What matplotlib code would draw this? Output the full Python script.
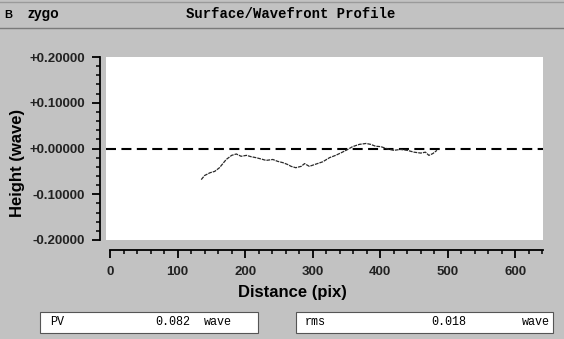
import numpy as np
from matplotlib import pyplot as plt
from matplotlib.patches import Rectangle

# profile
dist = [135, 140, 148, 155, 162, 167, 172, 180, 187, 194, 202, 209, 216, 224, 231,
        241, 248, 256, 263, 268, 275, 283, 288, 295, 305, 315, 325, 334, 344, 352,
        359, 369, 379, 386, 393, 401, 411, 420, 430, 440, 450, 460, 467, 472, 478, 484]
height = [-0.068, -0.059, -0.053, -0.050, -0.042, -0.033, -0.024, -0.015, -0.012, -0.017,
          -0.015, -0.018, -0.020, -0.023, -0.026, -0.024, -0.028, -0.031, -0.035, -0.039,
          -0.042, -0.039, -0.033, -0.039, -0.034, -0.029, -0.020, -0.015, -0.008, -0.002,
          0.004, 0.009, 0.011, 0.009, 0.005, 0.004, -0.001, -0.004, -0.002, -0.004,
          -0.008, -0.010, -0.008, -0.015, -0.011, -0.004]

yticks = [0.2, 0.1, 0.0, -0.1, -0.2]
ytick_labels = ['+0.20000', '+0.10000', '+0.00000', '-0.10000', '-0.20000']
xticks = [0, 100, 200, 300, 400, 500, 600]

stats = [('PV', '0.082', 'wave'), ('rms', '0.018', 'wave')]

bg = '#c2c2c2'
W, H = 564, 339

fig = plt.figure(figsize=(W / 100, H / 100), dpi=100, facecolor=bg)

def fx(px):
    return px / W

def fy(py):
    return 1 - py / H

# plot area (white box)
ax = fig.add_axes([fx(106), fy(240), fx(543) - fx(106), fy(57) - fy(240)], facecolor='white')
ax.set_xlim(-6, 641)
ax.set_ylim(-0.2, 0.2)

ax.axhline(0, color='black', lw=1.5, dashes=(4.8, 2.6))
ax.plot(dist, height, color='#2a2a2a', lw=0.9, linestyle=(0, (3, 0.8)))

for s in ['top', 'right']:
    ax.spines[s].set_visible(False)
ax.spines['left'].set_position(('outward', 4))
ax.spines['bottom'].set_position(('outward', 7))
ax.spines['bottom'].set_bounds(0, 641)
ax.spines['left'].set_linewidth(1.3)
ax.spines['bottom'].set_linewidth(1.3)

ax.set_yticks(yticks)
ax.set_yticklabels(ytick_labels)
ax.set_yticks(np.arange(-0.2, 0.2001, 0.02), minor=True)
ax.set_xticks(xticks)
ax.set_xticks(np.arange(0, 641, 20), minor=True)
ax.tick_params(which='major', length=6, width=1.3, color='black')
ax.tick_params(which='minor', length=3, width=1.1, color='black')
ax.tick_params(axis='y', pad=5)
ax.tick_params(axis='x', pad=6)
for lab in ax.get_xticklabels() + ax.get_yticklabels():
    lab.set_fontfamily('Liberation Sans')
    lab.set_fontweight('bold')
    lab.set_fontsize(9.5)
    lab.set_color('#222222')

fig.text(fx(18), fy(163), 'Height (wave)', rotation=90, ha='center', va='center',
         fontsize=12, fontweight='bold', family='Liberation Sans')
fig.text(fx(292), fy(292), 'Distance (pix)', ha='center', va='center',
         fontsize=12, fontweight='bold', family='Liberation Sans')

# title bar
fig.add_artist(plt.Line2D([0, 1], [fy(28), fy(28)], color='#7a7a7a', lw=1))
fig.add_artist(plt.Line2D([0, 1], [fy(2), fy(2)], color='#9a9a9a', lw=1))
fig.text(fx(4), fy(15), 'B', ha='left', va='center', fontsize=8, fontweight='bold',
         family='Liberation Sans')
fig.text(fx(28), fy(14), 'zygo', ha='left', va='center', fontsize=10, fontweight='bold',
         family='Liberation Sans')
fig.text(fx(291), fy(14), 'Surface/Wavefront Profile', ha='center', va='center',
         fontsize=10, fontweight='bold', family='Liberation Mono')

# result boxes at the bottom
boxes = [(40, 258), (296, 553)]
label_x = [(50, 190, 232), (305, 466, 550)]
for (x0, x1), (name, val, unit), (lx, vx, ux) in zip(boxes, stats, label_x):
    fig.add_artist(Rectangle((fx(x0), fy(333)), fx(x1) - fx(x0), fy(312) - fy(333),
                             facecolor='white', edgecolor='#555555', lw=0.8))
    fig.text(fx(lx), fy(322), name, ha='left', va='center', fontsize=8.5, family='Liberation Mono')
    fig.text(fx(vx), fy(322), val, ha='right', va='center', fontsize=8.5, family='Liberation Mono')
    fig.text(fx(ux), fy(322), unit, ha='right', va='center', fontsize=8.5, family='Liberation Mono')

fig.savefig('out.png', dpi=100, facecolor=bg)
